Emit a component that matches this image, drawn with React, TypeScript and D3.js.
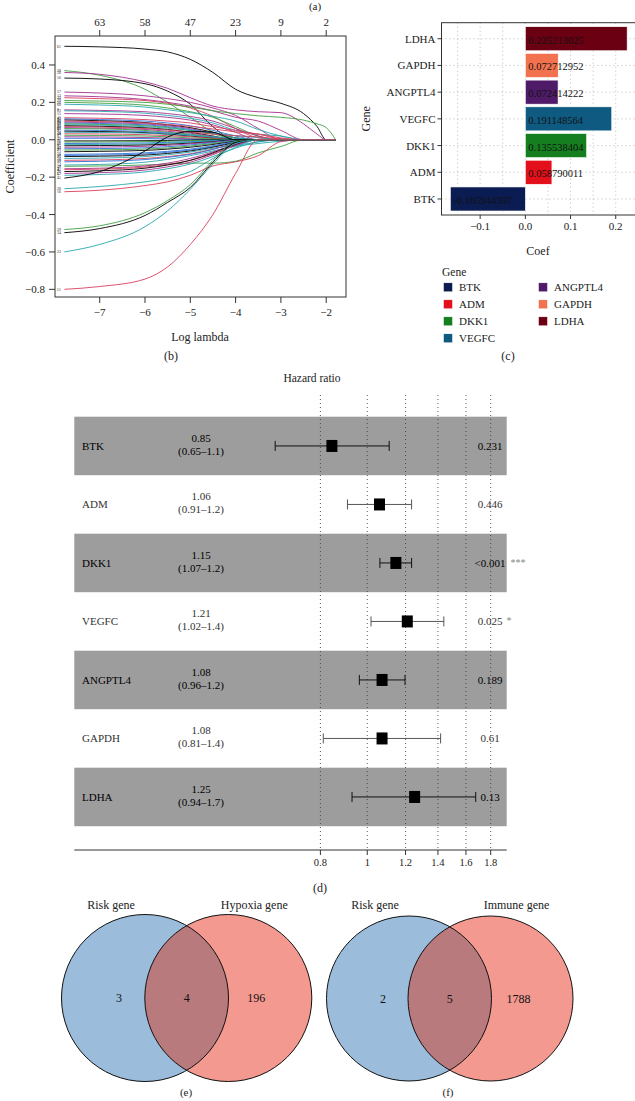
import React from 'react';
import * as d3 from 'd3';

const FONT = '"Liberation Serif", "DejaVu Serif", serif';

// ---------- (b) LASSO coefficient paths ----------
const lassoLambda = [-7.78, -7, -6, -5.5, -5, -4.5, -4, -3.5, -3, -2.5, -2.2, -2, -1.79];
const lassoPalette = ['#000000', '#d9405e', '#3f9f3f', '#2e6fd6', '#2aa6ae', '#a5318f'];
const lassoColorIdx = [0,2,5,0,5,5,1,2,2,4,5,4,5,1,3,0,1,5,3,2,4,0,1,5,2,3,0,4,1,2,5,3,0,2,3,4,0,5,3,2,0,3,3,0,4,1,3,4,2,5,1,0,5,4,0,4,1,2,0,4,1];
const lassoLabels = ['61','38','56','50','57','12','44','29','26','60','8','33','15','41','22','3','47','19','36','52','5','27','40','13','55','9','31','24','46','17','1','49','35','11','58','6','21','43','30','2','53','18','37','25','10','59','32','14','48','4','42','20','62','7','45','28','16','39','34','23','51'];
const lassoPaths = [
  [0.50,0.497,0.485,0.47,0.43,0.36,0.27,0.225,0.195,0.14,0.07,0,0],
  [0.37,0.345,0.27,0.2,0.12,0.04,0,0,0,0,0,0,0],
  [0.36,0.35,0.31,0.275,0.225,0.18,0.16,0.15,0.145,0.085,0.03,0,0],
  [0.33,0.325,0.3,0.26,0.19,0.07,0,0,0,0,0,0,0],
  [0.255,0.25,0.235,0.22,0.2,0.17,0.13,0.06,0,0,0,0,0],
  [0.235,0.23,0.215,0.2,0.18,0.155,0.12,0.1,0.05,0,0,0,0],
  [0.225,0.22,0.21,0.195,0.17,0.125,0.06,0.01,0,0,0,0,0],
  [0.21,0.207,0.2,0.19,0.175,0.155,0.14,0.128,0.12,0.105,0.085,0.065,0],
  [0.2,0.196,0.185,0.17,0.15,0.12,0.07,0.02,0,0,0,0,0],
  [0.19,0.186,0.175,0.16,0.145,0.125,0.1,0.055,0.02,0,0,0,0],
  [0.16,0.157,0.15,0.14,0.125,0.1,0.06,0.02,0,0,0,0,0],
  [0.155,0.152,0.142,0.13,0.115,0.09,0.05,0.03,0.02,0,0,0,0],
  [0.14,0.138,0.13,0.12,0.105,0.08,0.04,0,0,0,0,0,0],
  [0.118,0.115,0.108,0.1,0.09,0.07,0.05,0.03,0.005,0,0,0,0],
  [0.112,0.108,0.1,0.09,0.075,0.05,0.02,0,0,0,0,0,0],
  [0.106,0.102,0.092,0.08,0.065,0.04,0.01,0,0,0,0,0,0],
  [0.1,0.097,0.09,0.082,0.072,0.058,0.042,0.03,0.01,0,0,0,0],
  [0.095,0.092,0.085,0.075,0.06,0.035,0.01,0,0,0,0,0,0],
  [0.09,0.087,0.08,0.07,0.055,0.035,0.01,0,0,0,0,0,0],
  [0.085,0.082,0.075,0.066,0.05,0.03,0.01,0,0,0,0,0,0],
  [0.08,0.078,0.07,0.062,0.05,0.035,0.022,0.012,0,0,0,0,0],
  [0.075,0.072,0.064,0.055,0.04,0.02,0,0,0,0,0,0,0],
  [0.07,0.068,0.06,0.052,0.042,0.03,0.022,0.015,0.005,0,0,0,0],
  [0.065,0.062,0.055,0.045,0.035,0.018,0,0,0,0,0,0,0],
  [0.06,0.058,0.05,0.04,0.03,0.015,0,0,0,0,0,0,0],
  [0.052,0.05,0.044,0.036,0.026,0.012,0,0,0,0,0,0,0],
  [0.046,0.044,0.038,0.03,0.02,0.008,0,0,0,0,0,0,0],
  [0.04,0.039,0.035,0.03,0.024,0.016,0.008,0,0,0,0,0,0],
  [0.032,0.031,0.027,0.022,0.016,0.008,0,0,0,0,0,0,0],
  [0.024,0.023,0.02,0.016,0.01,0.004,0,0,0,0,0,0,0],
  [0.016,0.015,0.012,0.009,0.005,0,0,0,0,0,0,0,0],
  [0.008,0.008,0.006,0.004,0.002,0,0,0,0,0,0,0,0],
  [-0.006,-0.006,-0.005,-0.004,-0.002,0,0,0,0,0,0,0,0],
  [-0.012,-0.012,-0.01,-0.008,-0.005,-0.002,0,0,0,0,0,0,0],
  [-0.02,-0.019,-0.017,-0.014,-0.01,-0.005,0,0,0,0,0,0,0],
  [-0.026,-0.025,-0.022,-0.018,-0.013,-0.006,0,0,0,0,0,0,0],
  [-0.032,-0.031,-0.028,-0.024,-0.018,-0.01,0,0,0,0,0,0,0],
  [-0.04,-0.039,-0.035,-0.03,-0.022,-0.012,-0.003,0,0,0,0,0,0],
  [-0.048,-0.047,-0.043,-0.037,-0.028,-0.015,-0.004,0,0,0,0,0,0],
  [-0.055,-0.054,-0.05,-0.044,-0.034,-0.02,-0.006,0,0,0,0,0,0],
  [-0.064,-0.062,-0.057,-0.05,-0.04,-0.025,-0.008,0,0,0,0,0,0],
  [-0.078,-0.076,-0.07,-0.062,-0.05,-0.032,-0.01,0,0,0,0,0,0],
  [-0.084,-0.082,-0.076,-0.067,-0.055,-0.036,-0.012,0,0,0,0,0,0],
  [-0.09,-0.088,-0.082,-0.073,-0.06,-0.04,-0.015,0,0,0,0,0,0],
  [-0.1,-0.098,-0.09,-0.08,-0.066,-0.045,-0.03,-0.012,0,0,0,0,0],
  [-0.11,-0.108,-0.1,-0.09,-0.075,-0.05,-0.02,0,0,0,0,0,0],
  [-0.118,-0.115,-0.106,-0.094,-0.078,-0.052,-0.018,0,0,0,0,0,0],
  [-0.135,-0.132,-0.12,-0.105,-0.085,-0.06,-0.035,-0.02,-0.008,0,0,0,0],
  [-0.142,-0.14,-0.135,-0.13,-0.125,-0.125,-0.115,-0.07,-0.036,0,0,0,0],
  [-0.155,-0.152,-0.14,-0.125,-0.1,-0.065,-0.025,0,0,0,0,0,0],
  [-0.16,-0.157,-0.146,-0.132,-0.11,-0.075,-0.03,0,0,0,0,0,0],
  [-0.17,-0.166,-0.152,-0.135,-0.11,-0.07,-0.025,0,0,0,0,0,0],
  [-0.18,-0.176,-0.162,-0.145,-0.12,-0.08,-0.03,0,0,0,0,0,0],
  [-0.19,-0.186,-0.172,-0.155,-0.13,-0.09,-0.045,-0.01,0,0,0,0,0],
  [-0.205,-0.17,-0.06,0.015,0.045,0.04,0,0,0,0,0,0,0],
  [-0.262,-0.25,-0.225,-0.205,-0.17,-0.1,-0.04,0,0,0,0,0,0],
  [-0.278,-0.27,-0.245,-0.225,-0.19,-0.14,-0.118,-0.085,-0.01,0,0,0,0],
  [-0.48,-0.46,-0.39,-0.325,-0.24,-0.11,-0.01,0,0,0,0,0,0],
  [-0.497,-0.475,-0.405,-0.335,-0.255,-0.12,-0.015,0,0,0,0,0,0],
  [-0.6,-0.56,-0.465,-0.38,-0.265,-0.13,-0.02,0,0,0,0,0,0],
  [-0.8,-0.785,-0.745,-0.68,-0.56,-0.4,-0.18,0,0,0,0,0,0],
];
const lambdaTicks = [-7, -6, -5, -4, -3, -2];
const topCounts = ['63', '58', '47', '23', '9', '2'];
const coefTicks = [0.4, 0.2, 0, -0.2, -0.4, -0.6, -0.8];

// ---------- (c) coefficient bars ----------
const barGenes = ['BTK', 'ADM', 'DKK1', 'VEGFC', 'ANGPTL4', 'GAPDH', 'LDHA'];
const barCoef = [-0.165944307, 0.058790011, 0.135538404, 0.191148564, 0.072414222, 0.072712952, 0.225213025];
const barLabels = ['-0.165944307', '0.058790011', '0.135538404', '0.191148564', '0.072414222', '0.072712952', '0.225213025'];
const barColors = ['#0b1c52', '#e3101b', '#157f1f', '#0e5a80', '#4f1b68', '#f2714f', '#6b0012'];
const coefMajor = [-0.1, 0, 0.1, 0.2];
const coefMinor = [-0.15, -0.05, 0.05, 0.15];

// ---------- (d) forest ----------
const forestGenes = ['BTK', 'ADM', 'DKK1', 'VEGFC', 'ANGPTL4', 'GAPDH', 'LDHA'];
const hrValue = [0.845, 1.06, 1.146, 1.21, 1.073, 1.073, 1.253];
const hrLow = [0.645, 0.91, 1.062, 1.018, 0.963, 0.811, 0.93];
const hrHigh = [1.11, 1.235, 1.235, 1.44, 1.197, 1.418, 1.676];
const hrText = ['0.85', '1.06', '1.15', '1.21', '1.08', '1.08', '1.25'];
const ciText = ['(0.65–1.1)', '(0.91–1.2)', '(1.07–1.2)', '(1.02–1.4)', '(0.96–1.2)', '(0.81–1.4)', '(0.94–1.7)'];
const pText = ['0.231', '0.446', '<0.001', '0.025', '0.189', '0.61', '0.13'];
const sigText = ['', '', '***', '*', '', '', ''];
const hrTicks = [0.8, 1, 1.2, 1.4, 1.6, 1.8];

// ---------- (e)(f) Venn ----------
const vennLeftName = ['Risk gene', 'Risk gene'];
const vennRightName = ['Hypoxia gene', 'Immune gene'];
const vennLeftOnly = ['3', '2'];
const vennBoth = ['4', '5'];
const vennRightOnly = ['196', '1788'];

const fmtCoef = (v: number) => (v < 0 ? '\u2212' : '') + Math.abs(v).toFixed(1);
const fmtLam = (v: number) => (v < 0 ? '\u2212' : '') + Math.abs(v);

function LassoPanel() {
  const x = d3.scaleLinear().domain([-7.987, -1.563]).range([55, 346]);
  const y = d3.scaleLinear().domain([0.555, -0.841]).range([36, 297]);
  const line = d3.line<number>()
    .x((_, i) => x(lassoLambda[i]))
    .y((d) => y(d))
    .curve(d3.curveMonotoneX);
  return (
    <g fontFamily={FONT}>
      <defs>
        <clipPath id="lassoClip"><rect x={55} y={36} width={291} height={261} /></clipPath>
      </defs>
      <g clipPath="url(#lassoClip)">
        {lassoPaths.map((p, i) => (
          <path key={i} d={line(p) || ''} fill="none" stroke={lassoPalette[lassoColorIdx[i]]} strokeWidth={0.9} />
        ))}
      </g>
      {lassoPaths.map((p, i) => (
        <text key={'l' + i} x={57} y={y(p[0]) + 1.3} fontSize={3.8} fill="#222">{lassoLabels[i]}</text>
      ))}
      <rect x={55} y={36} width={291} height={261} fill="none" stroke="#333" strokeWidth={1} />
      {lambdaTicks.map((t, i) => (
        <g key={t}>
          <line x1={x(t)} x2={x(t)} y1={297} y2={303} stroke="#333" />
          <text x={x(t)} y={316} fontSize={11} textAnchor="middle" fill="#222">{fmtLam(t)}</text>
          <line x1={x(t)} x2={x(t)} y1={36} y2={30} stroke="#333" />
          <text x={x(t)} y={26} fontSize={11} textAnchor="middle" fill="#222">{topCounts[i]}</text>
        </g>
      ))}
      {coefTicks.map((t) => (
        <g key={t}>
          <line x1={55} x2={49} y1={y(t)} y2={y(t)} stroke="#333" />
          <text x={45} y={y(t) + 4} fontSize={11} textAnchor="end" fill="#222">{fmtCoef(t)}</text>
        </g>
      ))}
      <text transform={`translate(10,${(36 + 297) / 2}) rotate(-90)`} textAnchor="middle" fontSize={12} fill="#222" dominantBaseline="central">Coefficient</text>
      <text x={200} y={341} fontSize={12} textAnchor="middle" fill="#222">Log lambda</text>
      <text x={171} y={360} fontSize={12} textAnchor="middle" fill="#222">(b)</text>
      <text x={315} y={10} fontSize={11} textAnchor="middle" fill="#222">(a)</text>
    </g>
  );
}

function BarPanel() {
  const x = d3.scaleLinear().domain([-0.1855, 0.2448]).range([441.5, 636]);
  const order = [...barGenes].reverse();
  const y = d3.scalePoint<string>().domain(order).range([22.7, 215]).padding(0.6);
  const step = y.step();
  const bh = step * 0.9;
  const left = 441.5, top = 22.7, bottom = 215;
  return (
    <g fontFamily={FONT}>
      <defs>
        <clipPath id="barClip"><rect x={left} y={top} width={636 - left} height={bottom - top} /></clipPath>
      </defs>
      <g clipPath="url(#barClip)">
        {coefMinor.concat(coefMajor).map((t) => (
          <line key={'g' + t} x1={x(t)} x2={x(t)} y1={top} y2={bottom} stroke="#aaa" strokeWidth={0.8} strokeDasharray="1,3" />
        ))}
        {barGenes.map((g) => (
          <line key={'h' + g} x1={left} x2={636} y1={y(g)!} y2={y(g)!} stroke="#aaa" strokeWidth={0.8} strokeDasharray="1,3" />
        ))}
        {barGenes.map((g, i) => {
          const v = barCoef[i];
          return (
            <rect key={g} x={x(Math.min(0, v))} y={y(g)! - bh / 2} width={Math.abs(x(v) - x(0))} height={bh} fill={barColors[i]} stroke="#fff" strokeWidth={0.6} />
          );
        })}
        {barGenes.map((g, i) => (
          <text key={'t' + g} x={x(Math.min(0, barCoef[i])) + 3} y={y(g)! + 5} fontSize={10.5} fill="#111">{barLabels[i]}</text>
        ))}
      </g>
      <rect x={left} y={top} width={636 - left} height={bottom - top} fill="none" stroke="#333" strokeWidth={1} />
      {barGenes.map((g) => (
        <g key={'y' + g}>
          <line x1={left - 4} x2={left} y1={y(g)!} y2={y(g)!} stroke="#333" />
          <text x={left - 6} y={y(g)! + 4} fontSize={11} textAnchor="end" fill="#222">{g}</text>
        </g>
      ))}
      {coefMajor.map((t) => (
        <g key={'x' + t}>
          <line x1={x(t)} x2={x(t)} y1={bottom} y2={bottom + 4} stroke="#333" />
          <text x={x(t)} y={bottom + 15} fontSize={11} textAnchor="middle" fill="#222">{fmtCoef(t)}</text>
        </g>
      ))}
      <text transform={`translate(366,${(top + bottom) / 2}) rotate(-90)`} textAnchor="middle" dominantBaseline="central" fontSize={12} fill="#222">Gene</text>
      <text x={538} y={255} fontSize={12} textAnchor="middle" fill="#222">Coef</text>
      <text x={442} y={276} fontSize={11.5} fill="#222">Gene</text>
      {barGenes.map((g, i) => {
        const col = i < 4 ? 0 : 1;
        const row = i < 4 ? i : i - 4;
        const kx = col === 0 ? 443.5 : 538.5;
        const ky = 287.3 + row * 17;
        return (
          <g key={'lg' + g}>
            <rect x={kx} y={ky - 4.5} width={9} height={9} fill={barColors[i]} stroke="#fff" strokeWidth={0.5} />
            <text x={kx + 15.5} y={ky + 4} fontSize={11} fill="#222">{g}</text>
          </g>
        );
      })}
      <text x={508} y={360} fontSize={12} textAnchor="middle" fill="#222">(c)</text>
    </g>
  );
}

function ForestPanel() {
  const x = d3.scaleLog().domain([0.8, 1.8]).range([320.4, 490.7]);
  const top = 416.7, rowH = 58.5;
  const left = 74.3, right = 506.7, axisY = 850;
  return (
    <g fontFamily={FONT}>
      <text x={312} y={382} fontSize={11.5} textAnchor="middle" fill="#222">Hazard ratio</text>
      {forestGenes.map((g, i) => (i % 2 === 0 ? (
        <rect key={'bg' + g} x={left} y={top + i * rowH} width={right - left} height={rowH} fill="#9d9d9d" />
      ) : null))}
      {hrTicks.map((t) => (
        <line key={'v' + t} x1={x(t)} x2={x(t)} y1={395} y2={axisY} stroke="#333" strokeWidth={0.8} strokeDasharray="1,3" />
      ))}
      {forestGenes.map((g, i) => {
        const cy = top + i * rowH + rowH / 2;
        const shaded = i % 2 === 0;
        const c = shaded ? '#000' : '#333';
        const lc = shaded ? '#111' : '#555';
        return (
          <g key={g}>
            <text x={82} y={cy + 4} fontSize={11} fill={c}>{g}</text>
            <text x={201} y={cy - 4} fontSize={11} textAnchor="middle" fill={c}>{hrText[i]}</text>
            <text x={201} y={cy + 9} fontSize={11} textAnchor="middle" fill={c}>{ciText[i]}</text>
            <line x1={x(hrLow[i])} x2={x(hrHigh[i])} y1={cy} y2={cy} stroke={lc} strokeWidth={1} />
            <line x1={x(hrLow[i])} x2={x(hrLow[i])} y1={cy - 5} y2={cy + 5} stroke={lc} strokeWidth={1} />
            <line x1={x(hrHigh[i])} x2={x(hrHigh[i])} y1={cy - 5} y2={cy + 5} stroke={lc} strokeWidth={1} />
            <rect x={x(hrValue[i]) - 5.5} y={cy - 6} width={11} height={12} fill="#000" />
            <text x={490} y={cy + 4} fontSize={11} textAnchor="middle" fill={c}>{pText[i]}</text>
            {sigText[i] ? (
              <text x={sigText[i].length > 1 ? 518 : 509} y={cy + 3} fontSize={10} textAnchor="middle" fill="#888">{sigText[i]}</text>
            ) : null}
          </g>
        );
      })}
      <line x1={left} x2={right} y1={axisY} y2={axisY} stroke="#333" strokeWidth={1} />
      {hrTicks.map((t) => (
        <g key={'t' + t}>
          <line x1={x(t)} x2={x(t)} y1={axisY} y2={axisY + 5} stroke="#333" />
          <text x={x(t)} y={axisY + 16} fontSize={10.5} textAnchor="middle" fill="#222">{String(t)}</text>
        </g>
      ))}
      <text x={320} y={892} fontSize={12} textAnchor="middle" fill="#222">(d)</text>
    </g>
  );
}

function Venn({ idx, cxL, cxR, cy, r, tag, tagX }: { idx: number; cxL: number; cxR: number; cy: number; r: number; tag: string; tagX: number }) {
  const id = 'vclip' + idx;
  const mid = (cxL + cxR) / 2;
  return (
    <g fontFamily={FONT}>
      <defs>
        <clipPath id={id}><circle cx={cxL} cy={cy} r={r} /></clipPath>
      </defs>
      <circle cx={cxL} cy={cy} r={r} fill="#9bbcda" />
      <circle cx={cxR} cy={cy} r={r} fill="#f4998f" />
      <circle cx={cxR} cy={cy} r={r} fill="#b87a7c" clipPath={`url(#${id})`} />
      <circle cx={cxL} cy={cy} r={r} fill="none" stroke="#111" strokeWidth={1} />
      <circle cx={cxR} cy={cy} r={r} fill="none" stroke="#111" strokeWidth={1} />
      <text x={cxL - 34} y={909} fontSize={12} textAnchor="middle" fill="#222">{vennLeftName[idx]}</text>
      <text x={cxR + 26} y={909} fontSize={12} textAnchor="middle" fill="#222">{vennRightName[idx]}</text>
      <text x={cxL - 26} y={cy + 4} fontSize={12} textAnchor="middle" fill="#111">{vennLeftOnly[idx]}</text>
      <text x={mid} y={cy + 4} fontSize={12} textAnchor="middle" fill="#111">{vennBoth[idx]}</text>
      <text x={cxR + 28} y={cy + 4} fontSize={12} textAnchor="middle" fill="#111">{vennRightOnly[idx]}</text>
      <text x={tagX} y={1096} fontSize={11} textAnchor="middle" fill="#222">{tag}</text>
    </g>
  );
}

export default function App() {
  return (
    <svg width={635} height={1101} viewBox="0 0 635 1101" style={{ position: 'absolute', left: 0, top: 0, display: 'block', background: '#fff' }}>
      <rect x={0} y={0} width={635} height={1101} fill="#fff" />
      <LassoPanel />
      <BarPanel />
      <ForestPanel />
      <Venn idx={0} cxL={145} cxR={228.3} cy={998} r={83.5} tag="(e)" tagX={186} />
      <Venn idx={1} cxL={409} cxR={490.5} cy={998.5} r={82.5} tag="(f)" tagX={448} />
    </svg>
  );
}
